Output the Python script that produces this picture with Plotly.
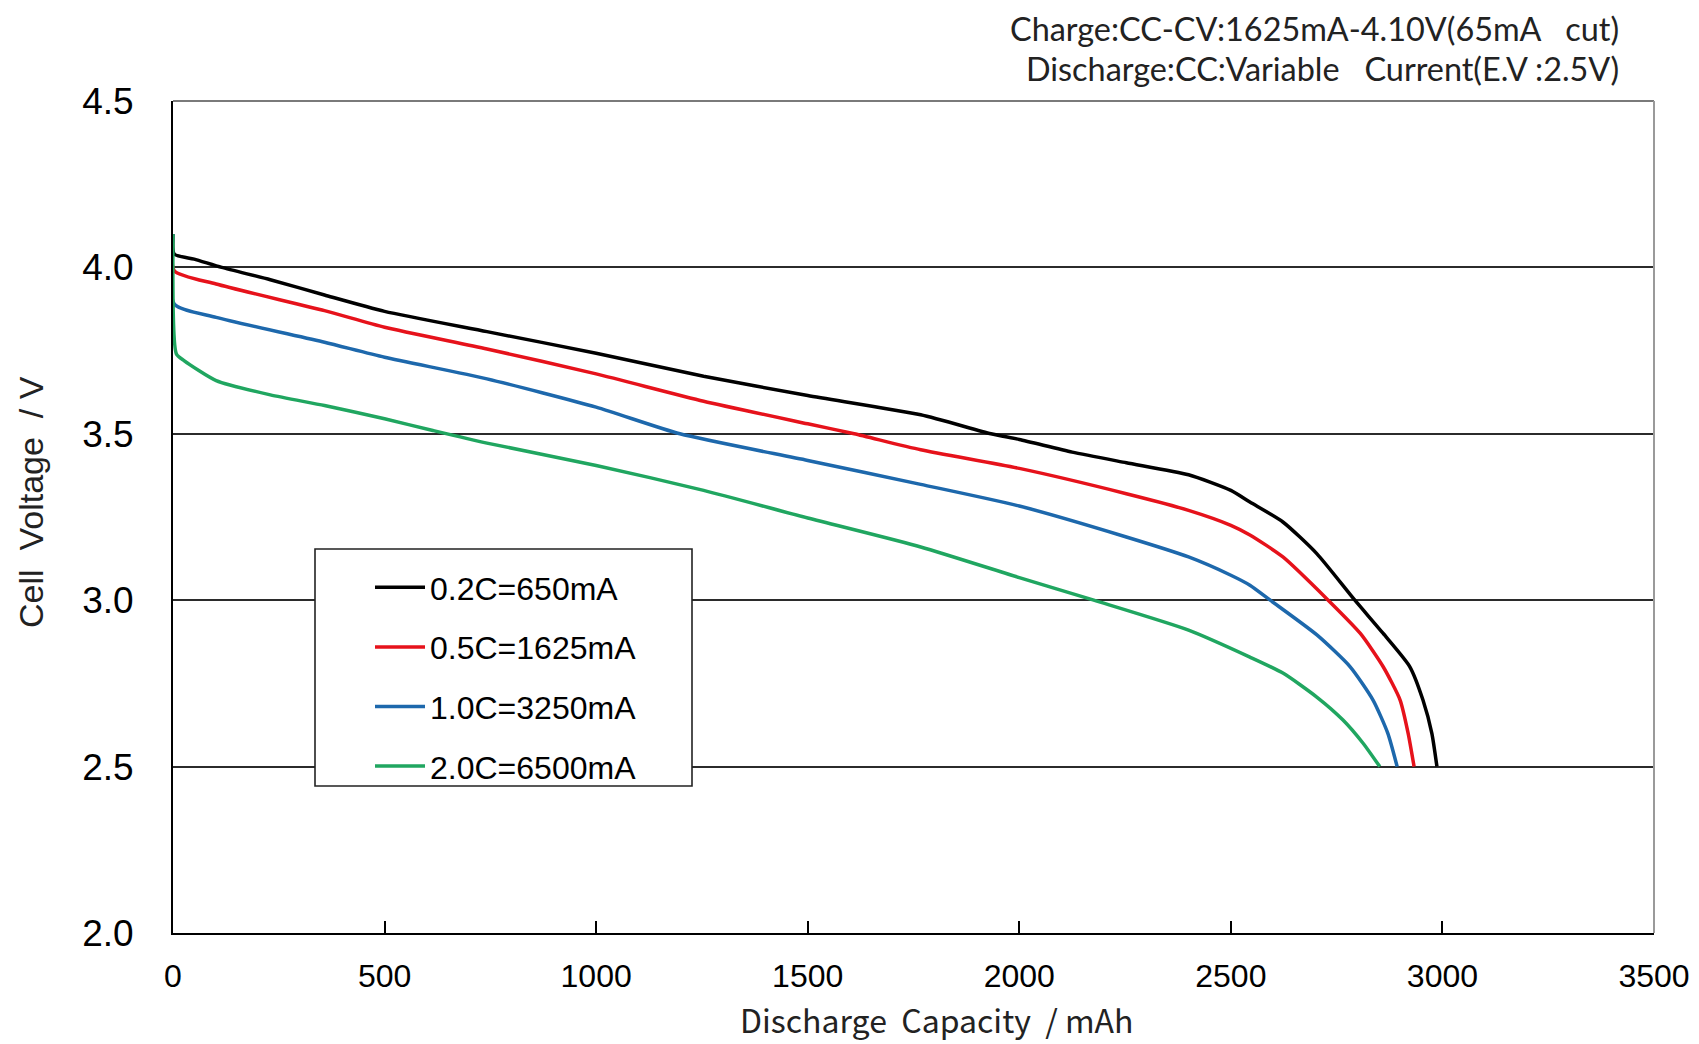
import plotly.graph_objects as go

# ---- data ----
cap_02c = [0, 3, 50, 115, 230, 358, 500, 742, 1000, 1254, 1500, 1767, 1933, 2000, 2125, 2253, 2400, 2500, 2545, 2623, 2703, 2793, 2860, 2923, 2954, 2975, 2987]
v_02c = [4.10, 4.04, 4.025, 4.00, 3.963, 3.917, 3.868, 3.807, 3.742, 3.673, 3.615, 3.557, 3.50, 3.483, 3.445, 3.413, 3.377, 3.33, 3.295, 3.235, 3.14, 3.00, 2.90, 2.80, 2.70, 2.60, 2.50]

cap_05c = [0, 3, 102, 358, 500, 742, 1000, 1254, 1500, 1610, 1767, 2000, 2253, 2400, 2500, 2545, 2623, 2730, 2806, 2860, 2900, 2919, 2933]
v_05c = [4.10, 3.99, 3.95, 3.87, 3.82, 3.755, 3.68, 3.598, 3.53, 3.50, 3.452, 3.396, 3.32, 3.27, 3.225, 3.196, 3.13, 3.00, 2.90, 2.80, 2.70, 2.60, 2.50]

cap_10c = [0, 3, 102, 358, 500, 742, 1000, 1198, 1500, 1767, 2000, 2253, 2400, 2500, 2545, 2593, 2704, 2782, 2836, 2871, 2893]
v_10c = [4.10, 3.89, 3.85, 3.775, 3.73, 3.665, 3.58, 3.50, 3.42, 3.348, 3.283, 3.19, 3.13, 3.075, 3.045, 3.00, 2.895, 2.80, 2.70, 2.60, 2.50]

cap_20c = [0, 8, 26, 102, 230, 358, 500, 614, 742, 1000, 1254, 1500, 1767, 2000, 2176, 2400, 2545, 2623, 2703, 2765, 2812, 2852]
v_20c = [4.10, 3.74, 3.72, 3.66, 3.617, 3.585, 3.545, 3.51, 3.472, 3.405, 3.33, 3.247, 3.16, 3.068, 3.00, 2.91, 2.829, 2.781, 2.709, 2.64, 2.571, 2.50]

series_names = ["0.2C=650mA", "0.5C=1625mA", "1.0C=3250mA", "2.0C=6500mA"]
series_colors = ["#000000", "#e6121b", "#1d68ac", "#20a660"]

x_ticks = [0, 500, 1000, 1500, 2000, 2500, 3000, 3500]
y_ticks = [2.0, 2.5, 3.0, 3.5, 4.0, 4.5]

header_lines = ["Charge:CC-CV:1625mA-4.10V(65mA\u00a0\u00a0\u00a0cut)",
                "Discharge:CC:Variable\u00a0\u00a0\u00a0Current(E.V\u00a0:2.5V)"]
x_title = "Discharge\u00a0\u00a0Capacity\u00a0\u00a0/\u00a0mAh"
y_title = "Cell\u00a0\u00a0Voltage\u00a0\u00a0/\u00a0V"

# ---- figure (page body has an 8px margin; compensate) ----
OFF = 8
W, H = 1699 - OFF, 1044 - OFF
L, T = 173 - OFF, 101 - OFF
R = W - (1654 - OFF)
B = H - (933 - OFF)
pw, ph = W - L - R, H - T - B

def px(xo):
    return (xo - OFF - L) / pw

def py(yo):
    return (H - B - (yo - OFF)) / ph

fig = go.Figure()
for i, (cx, vy) in enumerate([(cap_02c, v_02c), (cap_05c, v_05c), (cap_10c, v_10c), (cap_20c, v_20c)]):
    fig.add_trace(go.Scatter(
        x=cx, y=vy, mode="lines", name=series_names[i],
        line=dict(color=series_colors[i], width=3.5, shape="spline", smoothing=0.6),
        legendgroup=f"g{i}", hoverinfo="skip"))

fig.update_layout(
    width=W, height=H,
    margin=dict(l=L, r=R, t=T, b=B, autoexpand=False),
    paper_bgcolor="white", plot_bgcolor="white",
    font=dict(family="Liberation Sans, Arial", color="black"),
    showlegend=True,
    legend=dict(
        x=px(370), y=py(560), xanchor="left", yanchor="top",
        bgcolor="rgba(0,0,0,0)", borderwidth=0,
        font=dict(family="Liberation Sans, Arial", size=32, color="black"),
        tracegroupgap=15, itemwidth=50,
    ),
    xaxis=dict(
        range=[0, 3500], tickvals=x_ticks, ticktext=[str(v) for v in x_ticks],
        showgrid=False, zeroline=False,
        showline=True, linecolor="black", linewidth=2,
        ticks="inside", ticklen=12, tickwidth=1.5, tickcolor="black",
        tickfont=dict(family="Liberation Sans, Arial", size=32, color="black"),
        ticklabelstandoff=14,
    ),
    yaxis=dict(
        range=[2.0, 4.5], tickvals=y_ticks, ticktext=[f"{v:.1f}" for v in y_ticks],
        showgrid=True, gridcolor="#2b2b2b", gridwidth=1.6,
        zeroline=False,
        showline=True, linecolor="black", linewidth=2,
        ticks="",
        tickfont=dict(family="Liberation Sans, Arial", size=37, color="black"),
        ticklabelstandoff=30,
    ),
    shapes=[
        dict(type="line", xref="paper", yref="paper", x0=0, x1=1, y0=1, y1=1,
             line=dict(color="#7a7a7a", width=2), layer="above"),
        dict(type="line", xref="paper", yref="paper", x0=1, x1=1, y0=0, y1=1,
             line=dict(color="#9a9a9a", width=2), layer="above"),
        dict(type="rect", xref="paper", yref="paper",
             x0=px(315), x1=px(692), y0=py(786), y1=py(549),
             line=dict(color="#222222", width=1.6), fillcolor="white", layer="above"),
    ],
    annotations=[
        dict(text=header_lines[0], xref="paper", yref="paper", x=px(1621), y=py(28),
             xanchor="right", yanchor="middle", showarrow=False,
             font=dict(family="Lato", size=32.4, color="#222222")),
        dict(text=header_lines[1], xref="paper", yref="paper", x=px(1621), y=py(68),
             xanchor="right", yanchor="middle", showarrow=False,
             font=dict(family="Lato", size=32.4, color="#222222")),
        dict(text=x_title, xref="paper", yref="paper", x=px(936), y=py(1044),
             xanchor="center", yanchor="bottom", showarrow=False,
             font=dict(family="Noto Sans CJK JP", size=32, color="#222222")),
        dict(text=y_title, xref="paper", yref="paper", x=px(31), y=py(502),
             xanchor="center", yanchor="middle", showarrow=False, textangle=-90,
             font=dict(family="Liberation Sans, Arial", size=34, color="#222222")),
    ],
)

fig.write_html("out.html")
